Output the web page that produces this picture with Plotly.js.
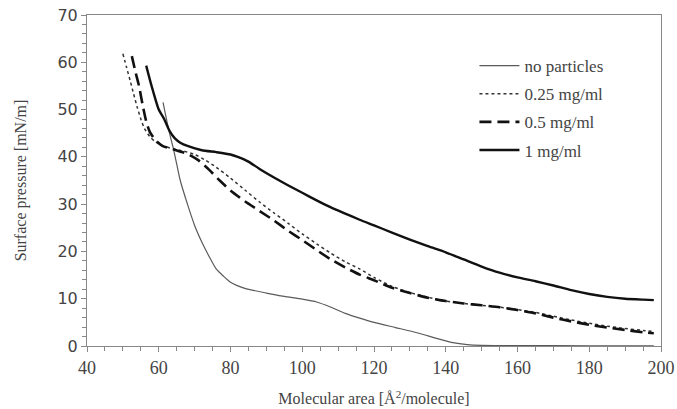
<!DOCTYPE html>
<html>
<head>
<meta charset="utf-8">
<script src="https://cdn.plot.ly/plotly-3.0.1.min.js"></script>
<style>html,body{margin:0;padding:0;background:#fff;}#chart{width:677px;height:409px;}
#chart .xtick text, #chart .legendtext, #chart .g-xtitle text, #chart .g-ytitle text {font-family: "Liberation Serif", "Times New Roman", serif !important;}
#chart .ytick text {font-family: "DejaVu Sans", sans-serif !important;}
</style>
</head>
<body>
<div id="chart"></div>
<script>
// no particles
const npX = [61.2, 62, 63, 64, 65, 66, 68, 70, 72, 74, 76, 78, 80, 84, 90, 95, 100, 104, 108, 112, 116, 120, 126, 132, 138, 142, 146, 150, 160, 180, 198];
const npY = [51.5, 48.5, 45, 42, 38.5, 35, 30, 25.5, 22, 19, 16.3, 14.8, 13.5, 12.2, 11.2, 10.5, 9.9, 9.3, 8.2, 6.9, 5.9, 5.0, 3.9, 2.8, 1.5, 0.7, 0.3, 0.15, 0.1, 0.05, 0.05];
// 0.25 mg/ml
const q25X = [50, 51, 52, 53, 54, 55, 56, 57.5, 59, 61, 64, 67, 70, 73, 76, 80, 84, 88, 92, 96, 100, 104, 108, 112, 116, 120, 125, 130, 135, 140, 145, 150, 155, 160, 165, 170, 175, 180, 185, 190, 195, 198];
const q25Y = [61.8, 59, 56.2, 53.3, 50.5, 48, 46, 44.3, 43.2, 42.4, 41.7, 41.2, 40.5, 39.3, 37.8, 35.5, 33, 30.5, 28.2, 26, 23.7, 21.6, 19.6, 17.8, 16.3, 14.5, 12.6, 11.3, 10.3, 9.5, 9.0, 8.6, 8.2, 7.7, 7.1, 6.3, 5.5, 4.8, 4.2, 3.7, 3.3, 3.1];
// 0.5 mg/ml
const h5X = [52.5, 53.5, 54.5, 55.5, 56.5, 57.5, 59, 61, 64, 68, 71, 74, 77, 80, 84, 88, 92, 96, 100, 104, 108, 112, 116, 120, 125, 130, 135, 140, 145, 150, 155, 160, 165, 170, 175, 180, 185, 190, 195, 198];
const h5Y = [61.3, 58, 55, 51, 47.5, 45.3, 43.6, 42.3, 41.6, 40.6, 39.3, 37.3, 35, 32.9, 30.6, 28.6, 26.6, 24.4, 22.4, 20.3, 18.3, 16.6, 15.1, 13.9, 12.3, 11.2, 10.2, 9.5, 9.0, 8.6, 8.2, 7.6, 6.9, 6.0, 5.2, 4.5, 3.9, 3.4, 2.9, 2.7];
// 1 mg/ml
const m1X = [56.5, 58, 60, 61.5, 63, 64.5, 66, 68, 72, 76, 80, 82, 85, 88, 92, 96, 100, 104, 108, 112, 116, 120, 125, 130, 135, 140, 145, 150, 155, 160, 165, 170, 175, 180, 185, 190, 195, 198];
const m1Y = [59.3, 55, 50, 48, 45.5, 43.9, 43, 42.3, 41.4, 41, 40.5, 40, 39, 37.5, 35.7, 34, 32.4, 30.8, 29.3, 28, 26.7, 25.5, 24, 22.5, 21.1, 19.8, 18.3, 16.8, 15.5, 14.5, 13.7, 12.8, 11.8, 11.0, 10.4, 10.0, 9.8, 9.7];

const names = ['no particles', '0.25 mg/ml', '0.5 mg/ml', '1 mg/ml'];

const SERIF = 'Liberation Serif';
const SANS = 'DejaVu Sans';

const traces = [
  {x: npX, y: npY, name: names[0], legendgroup: 'a', mode: 'lines', line: {color: '#5a5a5a', width: 1.2, shape: 'spline', smoothing: 0.6}},
  {x: q25X, y: q25Y, name: names[1], legendgroup: 'b', mode: 'lines', line: {color: '#333', width: 1.5, dash: '3px,3px', shape: 'spline', smoothing: 0.6}},
  {x: h5X, y: h5Y, name: names[2], legendgroup: 'c', mode: 'lines', line: {color: '#111', width: 2.6, dash: '12px,6px', shape: 'spline', smoothing: 0.6}},
  {x: m1X, y: m1Y, name: names[3], legendgroup: 'd', mode: 'lines', line: {color: '#111', width: 2.4, shape: 'spline', smoothing: 0.6}}
];

const layout = {
  width: 677, height: 409,
  margin: {l: 87, r: 16, t: 15, b: 63},
  font: {family: SERIF, size: 16},
  paper_bgcolor: '#fff', plot_bgcolor: '#fff',
  showlegend: true,
  legend: {x: 0.675, y: 0.9, xanchor: 'left', yanchor: 'top', bgcolor: 'rgba(0,0,0,0)',
           font: {family: SERIF, size: 17}, itemwidth: 40, tracegroupgap: 3},
  xaxis: {
    range: [40, 200], dtick: 20, tick0: 40,
    showgrid: false, zeroline: false,
    showline: true, linecolor: '#888', linewidth: 1, mirror: true,
    ticks: 'outside', ticklen: 5, tickcolor: '#888',
    minor: {dtick: 5, ticks: 'outside', ticklen: 4, tickcolor: '#888'},
    tickfont: {family: SERIF, size: 18},
    title: {text: 'Molecular area [Å<sup>2</sup>/molecule]', font: {family: SERIF, size: 16}, standoff: 16}
  },
  yaxis: {
    range: [0, 70], dtick: 10,
    showgrid: false, zeroline: false,
    showline: true, linecolor: '#888', linewidth: 1, mirror: true,
    ticks: 'outside', ticklen: 5, tickcolor: '#888',
    minor: {dtick: 2, ticks: 'outside', ticklen: 4, tickcolor: '#888'},
    tickfont: {family: SANS, size: 16},
    title: {text: 'Surface pressure [mN/m]', font: {family: SERIF, size: 16}, standoff: 26}
  }
};

Plotly.newPlot('chart', traces, layout, {displayModeBar: false, staticPlot: true}).then(function (gd) {
  gd.setAttribute('data-ready', '1');
});
</script>
</body>
</html>
